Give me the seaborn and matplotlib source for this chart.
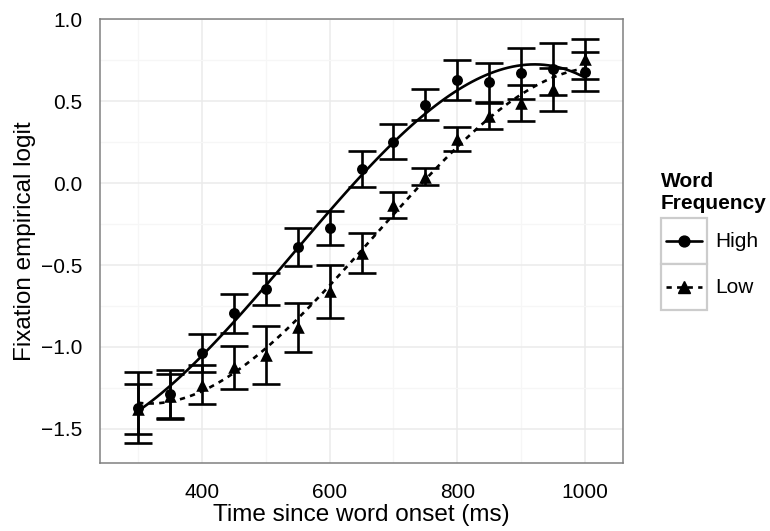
import matplotlib
matplotlib.use("Agg")
import numpy as np
import pandas as pd
import seaborn as sns
import matplotlib.pyplot as plt
from matplotlib.lines import Line2D
from matplotlib.patches import Rectangle
from matplotlib.legend_handler import HandlerBase

# Time bins (ms after word onset)
time_ms = [300, 350, 400, 450, 500, 550, 600, 650, 700, 750, 800, 850, 900, 950, 1000]

# Mean fixation empirical logit and standard error, high-frequency words
high_mean = [-1.37, -1.29, -1.035, -0.795, -0.646, -0.39, -0.274, 0.087, 0.253, 0.478,
             0.628, 0.614, 0.670, 0.695, 0.680]
high_se = [0.215, 0.150, 0.117, 0.117, 0.095, 0.115, 0.105, 0.108, 0.107, 0.095,
           0.122, 0.120, 0.155, 0.158, 0.117]

# Mean fixation empirical logit and standard error, low-frequency words
low_mean = [-1.378, -1.300, -1.230, -1.125, -1.050, -0.880, -0.660, -0.425, -0.134, 0.040,
            0.268, 0.410, 0.490, 0.572, 0.756]
low_se = [0.152, 0.135, 0.120, 0.133, 0.179, 0.149, 0.163, 0.122, 0.081, 0.053,
          0.075, 0.080, 0.110, 0.130, 0.122]

freq_levels = ["High", "Low"]
x_major = [400, 600, 800, 1000]
x_minor = [300, 500, 700, 900]
y_major = [-1.5, -1.0, -0.5, 0.0, 0.5, 1.0]
y_minor = [-1.25, -0.75, -0.25, 0.25, 0.75]

sns.set_theme(style="white")
plt.rcParams["font.family"] = ["Liberation Sans", "DejaVu Sans"]
plt.rcParams.update({"text.color": "black", "axes.labelcolor": "black",
                     "xtick.color": "black", "ytick.color": "black"})

df = pd.concat([
    pd.DataFrame({"time": time_ms, "logit": high_mean, "se": high_se, "freq": "High"}),
    pd.DataFrame({"time": time_ms, "logit": low_mean, "se": low_se, "freq": "Low"}),
], ignore_index=True)

W, H = 770, 531
fig = plt.figure(figsize=(W / 100, H / 100), dpi=100)
ax = fig.add_axes([100 / W, 1 - 463 / H, 523 / W, 444 / H])

cap_half = 22.5  # half width of the error-bar caps, in ms
style = {
    "High": dict(marker="o", s=62, ls="-", ms=7.8),
    "Low": dict(marker="^", s=82, ls=(0, (2.0, 2.0)), ms=9.0),
}
lw = 1.9
handles = []
for lvl in freq_levels:
    sub = df[df["freq"] == lvl]
    st = style[lvl]
    ax.errorbar(sub["time"], sub["logit"], yerr=sub["se"], fmt="none",
                ecolor="black", elinewidth=lw, capthick=lw, capsize=10.4, zorder=3)
    sns.scatterplot(data=sub, x="time", y="logit", marker=st["marker"], s=st["s"],
                    color="black", edgecolor="black", linewidth=0, ax=ax, zorder=4,
                    legend=False)
    # cubic growth-curve fit for each frequency condition
    sns.regplot(data=sub, x="time", y="logit", order=3, ci=None, scatter=False,
                color="black", line_kws=dict(lw=lw, ls=st["ls"], zorder=5), ax=ax)
    handles.append(Line2D([], [], color="black", lw=lw, ls=st["ls"], marker=st["marker"],
                          markersize=st["ms"], label=lvl))

# Axis limits: data range including caps, padded by 5%
x_lo, x_hi = min(time_ms) - cap_half, max(time_ms) + cap_half
xp = 0.05 * (x_hi - x_lo)
ax.set_xlim(x_lo - xp, x_hi + xp)
lows = np.r_[np.array(high_mean) - high_se, np.array(low_mean) - low_se]
highs = np.r_[np.array(high_mean) + high_se, np.array(low_mean) + low_se]
y_lo, y_hi = lows.min(), highs.max()
yp = 0.05 * (y_hi - y_lo)
ax.set_ylim(y_lo - yp, y_hi + yp)

ax.set_xticks(x_major)
ax.set_xticks(x_minor, minor=True)
ax.set_yticks(y_major)
ax.set_yticks(y_minor, minor=True)
ax.set_yticklabels([f"{v:.1f}".replace("-", "\u2212") for v in y_major])
ax.set_xticklabels([str(v) for v in x_major])

ax.set_axisbelow(True)
ax.grid(which="major", color="#EBEBEB", lw=1.1)
ax.grid(which="minor", color="#F6F6F6", lw=0.9)
for sp in ax.spines.values():
    sp.set_visible(True)
    sp.set_color("#808080")
    sp.set_linewidth(1.1)
ax.tick_params(which="major", length=8, width=1.5, color="black",
               labelsize=15, labelcolor="black", pad=4.5)
ax.tick_params(axis="x", which="major", pad=6.5)
ax.tick_params(which="minor", length=0)

ax.set_xlabel("Time since word onset (ms)", fontsize=17.5, labelpad=1, color="black")
ax.set_ylabel("Fixation empirical logit", fontsize=17.5, labelpad=4, color="black")


class BoxedKey(HandlerBase):
    """Legend key drawn as a bordered square with the line and marker inside."""

    def create_artists(self, legend, orig_handle, xdescent, ydescent, width, height,
                       fontsize, trans):
        x0, y0 = -xdescent, -ydescent
        yc = y0 + height / 2
        inset = 0.1 * width
        box = Rectangle((x0, y0), width, height, facecolor="white",
                        edgecolor="#CCCCCC", lw=1.6, transform=trans)
        line = Line2D([x0 + inset, x0 + width - inset], [yc, yc])
        line.update_from(orig_handle)
        line.set_marker("None")
        line.set_transform(trans)
        mark = Line2D([x0 + width / 2], [yc])
        mark.update_from(orig_handle)
        mark.set_linestyle("None")
        mark.set_transform(trans)
        return [box, line, mark]


fs = 15
fs_px = fs * 100 / 72
key_px = 46
hl = key_px / fs_px
hh = (key_px / fs_px - 0.245) / 0.65
leg = ax.legend(handles=handles, labels=freq_levels, title="Word\nFrequency",
                loc="center left", bbox_to_anchor=(661 / W, 1 - 241 / H),
                bbox_transform=fig.transFigure, frameon=False, fontsize=fs,
                title_fontproperties=dict(weight="bold", size=fs),
                handler_map={Line2D: BoxedKey()}, handlelength=hl, handleheight=hh,
                labelspacing=0, handletextpad=0.4, borderpad=0, borderaxespad=0,
                alignment="left")
leg._legend_box.sep = 4
leg.get_title().set_color("black")
for txt in leg.get_texts():
    txt.set_color("black")

fig.savefig("out.png", dpi=100)
